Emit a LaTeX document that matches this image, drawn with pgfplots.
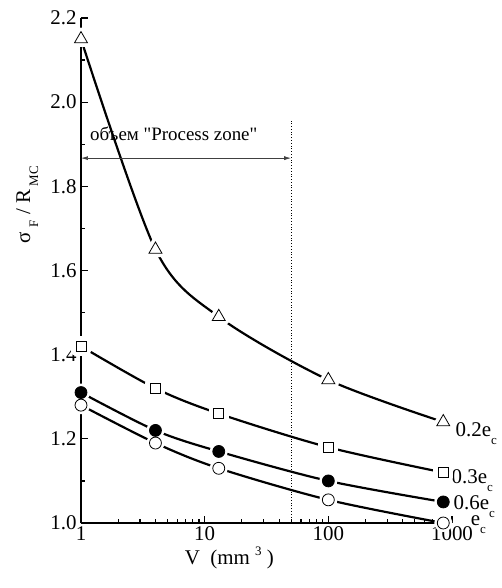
\documentclass[border=0pt]{standalone}
\usepackage{fontspec}
\setmainfont{Liberation Serif}[Ligatures=TeXOff]
\usepackage{pgfplots}
\pgfplotsset{compat=1.18}
\usetikzlibrary{arrows.meta}

% sigma_F / R_MC against V, for the four crack depths
\pgfplotstableread{
V s
1   2.15
4   1.65
13  1.49
100 1.34
850 1.24
}\tabA
\pgfplotstableread{
V s
1   1.42
4   1.32
13  1.26
100 1.18
850 1.12
}\tabB
\pgfplotstableread{
V s
1   1.31
4   1.22
13  1.17
100 1.10
850 1.05
}\tabC
\pgfplotstableread{
V s
1   1.28
4   1.19
13  1.13
100 1.055
850 1.00
}\tabD

\newcommand{\lo}[1]{\smash{\raisebox{-8bp}{\fontsize{13}{13}\selectfont #1}}}
\newcommand{\hi}[1]{\raisebox{9bp}{\fontsize{13}{13}\selectfont #1}}

\pgfplotsset{
  curve/.style={line width=2.2pt, smooth, no marks, black},
  halo/.style={only marks, mark options={draw=white, fill=white, line width=#1, line join=round}},
  mk/.style={only marks, mark options={draw=black, fill=#1, line width=0.8pt}},
}

\begin{document}
\begin{tikzpicture}
\useasboundingbox (-81bp,-65bp) rectangle (421bp,523bp);
\begin{axis}[
  scale only axis, width=371bp, height=505bp,
  xmode=log, xmin=1, xmax=1000, ymin=1.0, ymax=2.2,
  axis lines*=left, axis line style={line width=1.6pt},
  tick align=inside, major tick length=7bp, minor tick length=4bp,
  every tick/.style={black, line width=1.2pt},
  xtick={1,10,100,1000}, xticklabels={1,10,100,1000},
  ytick={1,1.2,1.4,1.6,1.8,2,2.2},
  yticklabels={1.0,1.2,1.4,1.6,1.8,2.0,2.2},
  minor ytick={1.1,1.3,1.5,1.7,1.9,2.1},
  /pgf/number format/assume math mode=true,
  tick label style={font=\fontsize{21}{24}\selectfont},
  yticklabel style={xshift=-1bp},
  clip=false,
]
\addplot[curve] table {\tabA};
\addplot[curve] table {\tabB};
\addplot[curve] table {\tabC};
\addplot[curve] table {\tabD};

\addplot[halo=8pt, mark=triangle*, mark size=7.5pt] table {\tabA};
\addplot[halo=10pt, mark=square*, mark size=5pt] table {\tabB};
\addplot[halo=6pt, mark=*, mark size=6pt] table {\tabC};
\addplot[halo=6pt, mark=*, mark size=6pt] table {\tabD};

\addplot[mk=white, mark=triangle*, mark size=7.5pt] table {\tabA};
\addplot[mk=white, mark=square*, mark size=5pt] table {\tabB};
\addplot[mk=black, mark=*, mark size=6pt] table {\tabC};
\addplot[mk=white, mark=*, mark size=6pt] table {\tabD};

\draw[dotted, line width=0.8pt] (axis cs:50,1.0) -- (axis cs:50,1.96);
\draw[{Latex[length=7pt,width=4pt]}-{Latex[length=7pt,width=4pt]}, line width=0.7pt, black!75]
  (axis cs:1,1.867) -- (axis cs:50,1.867);
\node[anchor=base west, inner sep=0, font=\fontsize{19}{21}\selectfont]
  at (axis cs:1.18,1.91) {объем "Process zone"};

\node[anchor=base west, inner sep=0, font=\fontsize{21}{24}\selectfont]
  at (axis cs:1067,1.2067) {0.2e\lo{c}};
\node[anchor=base west, inner sep=0, font=\fontsize{21}{24}\selectfont]
  at (axis cs:991,1.095) {0.3e\lo{c}};
\node[anchor=base west, inner sep=0, font=\fontsize{21}{24}\selectfont]
  at (axis cs:1029,1.031) {0.6e\lo{c}};
\node[anchor=base west, inner sep=0, font=\fontsize{21}{24}\selectfont]
  at (axis cs:1413,0.9952) {e\lo{c}};

\node[rotate=90, anchor=base, inner sep=0, font=\fontsize{21}{24}\selectfont]
  at (rel axis cs:-0.137,0.63) {σ \lo{F} / R\lo{ MC}};
\node[anchor=base, inner sep=0, font=\fontsize{21}{24}\selectfont]
  at (rel axis cs:0.40,-0.083) {V\enspace(mm \hi{3} )};
\end{axis}
\end{tikzpicture}
\end{document}
